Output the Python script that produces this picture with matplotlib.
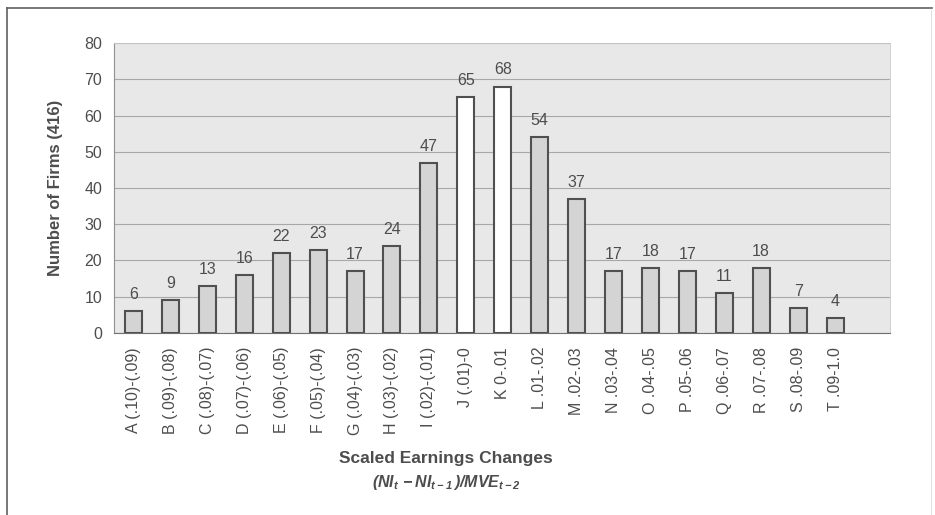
import matplotlib.pyplot as plt
from matplotlib.lines import Line2D

plt.rcParams['font.family'] = ['Liberation Sans', 'DejaVu Sans']
plt.rcParams['mathtext.fontset'] = 'custom'
plt.rcParams['mathtext.rm'] = 'Liberation Sans:italic:bold'
plt.rcParams['mathtext.it'] = 'Liberation Sans:italic:bold'

categories = ["A (.10)-(.09)", "B (.09)-(.08)", "C (.08)-(.07)", "D (.07)-(.06)",
              "E (.06)-(.05)", "F (.05)-(.04)", "G (.04)-(.03)", "H (.03)-(.02)",
              "I (.02)-(.01)", "J (.01)-0", "K 0-.01", "L .01-.02", "M .02-.03",
              "N .03-.04", "O .04-.05", "P .05-.06", "Q .06-.07", "R .07-.08",
              "S .08-.09", "T .09-1.0"]
firms = [6, 9, 13, 16, 22, 23, 17, 24, 47, 65, 68, 54, 37, 17, 18, 17, 11, 18, 7, 4]
white_bars = ["J (.01)-0", "K 0-.01"]
y_ticks = [0, 10, 20, 30, 40, 50, 60, 70, 80]

text_color = "#4d4d4d"

fig = plt.figure(figsize=(9.35, 5.15), dpi=100)
ax = fig.add_axes([0.1219, 0.3534, 0.830, 0.5631])
ax.set_facecolor("#e8e8e8")

colors = ["white" if c in white_bars else "#d4d4d4" for c in categories]
x = range(len(categories))
ax.bar(x, firms, width=0.46, color=colors, edgecolor="#505050",
       linewidth=1.5, zorder=3)

# value labels above each bar
for xi, v in zip(x, firms):
    ax.annotate(str(v), (xi, v), xytext=(0, 6.5), textcoords="offset points",
                ha="center", va="bottom", fontsize=11.5, color=text_color)

ax.set_xlim(-0.53, 20.49)
ax.set_ylim(0, 80)
ax.set_yticks(y_ticks)
ax.set_xticks(list(x))
ax.set_xticklabels(categories, rotation=90, fontsize=11.5, color=text_color)
ax.tick_params(axis="x", length=0, pad=10)
ax.tick_params(axis="y", length=0, pad=8.5, labelsize=11.5, labelcolor=text_color)
ax.grid(axis="y", color="#a8a8a8", linewidth=0.8, zorder=0)
ax.set_axisbelow(True)
for side in ["top", "right"]:
    ax.spines[side].set_color("#c8c8c8")
    ax.spines[side].set_linewidth(0.6)
ax.spines["left"].set_color("#909090")
ax.spines["bottom"].set_color("#707070")

fig.text(56 / 935, 1 - 188 / 515, "Number of Firms (416)", rotation=90,
         ha="center", va="center", fontsize=12, fontweight="bold", color=text_color)

fig.text(446 / 935, 1 - 458 / 515, "Scaled Earnings Changes", ha="center",
         va="center", fontsize=12.5, fontweight="bold", color=text_color)
fig.text(446 / 935, 1 - 482 / 515, r"$(NI_{t}\,-NI_{t-1}\,)/MVE_{t-2}$",
         ha="center", va="center", fontsize=11.5, color=text_color)

# outer frame of the scanned figure
fig.add_artist(Line2D([7 / 935, 932 / 935], [1 - 8 / 515, 1 - 8 / 515],
                      color="#606060", linewidth=1.2))
fig.add_artist(Line2D([7 / 935, 7 / 935], [0, 1 - 8 / 515],
                      color="#606060", linewidth=1.2))
fig.add_artist(Line2D([931 / 935, 931 / 935], [0, 1 - 10 / 515],
                      color="#e0e0e0", linewidth=0.8))

plt.savefig("out.png", dpi=100)
